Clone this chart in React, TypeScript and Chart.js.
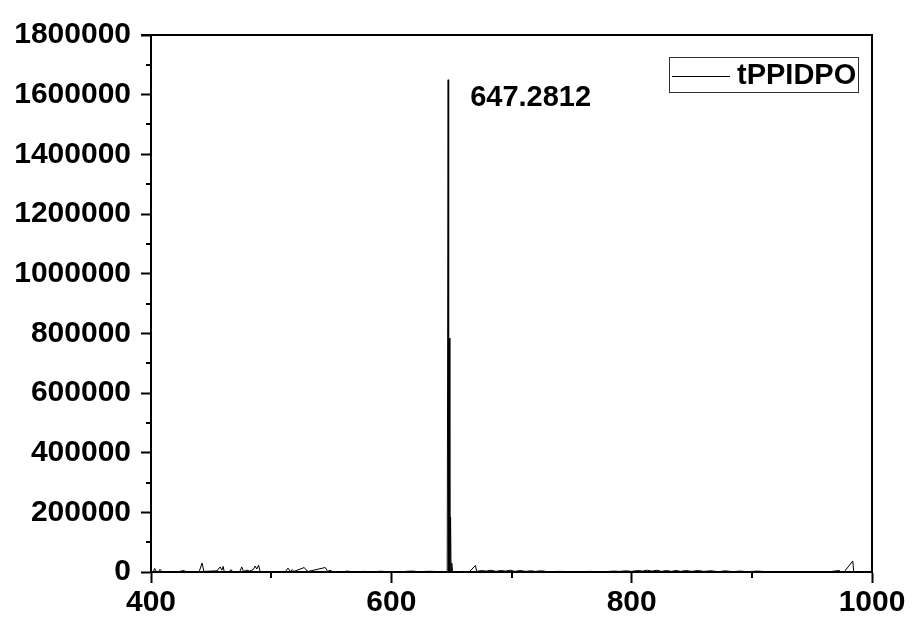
import React, { useEffect, useRef } from "react";
import { Chart, registerables } from "chart.js";

Chart.register(...registerables);

const seriesLabel = "tPPIDPO";
const peakLabel = "647.2812";
const peakMz = 647.2812;
const peakIntensity = 1650000;

const mz: number[] = [
  400, 402, 403, 404.5, 406, 407.5, 409, 415, 422, 427, 430, 440, 442.5, 444,
  455, 457.5, 459, 460, 461, 465, 466.7, 468, 474, 475.5, 477, 480, 482, 485,
  486.7, 488, 489.5, 491, 500, 512, 514, 516, 517.5, 519, 527.5, 530, 531, 545,
  547, 549, 551, 560, 563, 570, 577, 585, 591, 600, 610, 613, 618, 622, 632, 640,
  646.5, 647.28, 647.7, 648.28, 648.7, 649.29, 649.7, 650.29, 651, 655, 660, 665,
  670, 671, 675, 679, 683, 687, 691, 695, 699, 703, 707, 712, 716, 720, 725, 730,
  740, 752, 765, 778, 785, 790, 795, 800, 805, 809, 813, 817, 821, 825, 829, 833,
  837, 841, 845, 850, 855, 860, 866, 872, 878, 884, 890, 896, 905, 915, 930, 950,
  965, 972.5, 974, 977, 984, 984.8, 990, 995, 1000,
];

const intensity: number[] = [
  0, 0, 12000, 2000, 0, 9000, 2000, 1000, 0, 5000, 0, 0, 30000, 2000,
  4000, 17000, 6000, 19000, 0, 2000, 8000, 0, 2000, 17000, 2000, 6000, 3000, 8000,
  20000, 10000, 23000, 0, 0, 2000, 13000, 2000, 8000, 2000, 15000, 3000, 2000, 15000,
  2000, 6000, 1000, 1000, 3000, 0, 2000, 500, 2500, 500, 1000, 2500, 3000, 1000, 2500, 1000,
  0, 1650000, 0, 784000, 0, 184000, 0, 30000, 0, 1000, 2000, 1000,
  22000, 2000, 5000, 3000, 6000, 2000, 5000, 3000, 6000, 2000, 5000, 2000, 4000, 2000, 4000, 1000,
  2000, 1000, 2000, 1000, 3000, 2000, 4000, 2000, 5000, 3000, 6000, 3000, 6000, 2000, 5000, 2000,
  5000, 2000, 5000, 2000, 5000, 2000, 4000, 1000, 4000, 1000, 3000, 1000, 3000, 500, 1000, 500,
  1000, 5000, 1000, 1000, 37000, 0, 500, 2000, 500,
];

const xMin = 400;
const xMax = 1000;
const xStep = 200;
const xMinorStep = 100;
const yMin = 0;
const yMax = 1800000;
const yStep = 200000;
const yMinorStep = 100000;

const FONT = "'Liberation Sans', Arial, Helvetica, sans-serif";

const framePlugin = {
  id: "frameAndNotes",
  afterDraw(chart: any) {
    const { ctx, chartArea } = chart;
    const xs = chart.scales.x;
    const ys = chart.scales.y;
    ctx.save();
    ctx.strokeStyle = "#000";
    ctx.lineWidth = 2;
    // top and right frame
    ctx.beginPath();
    ctx.moveTo(chartArea.left - 10, chartArea.top);
    ctx.lineTo(chartArea.right + 1, chartArea.top);
    ctx.moveTo(chartArea.right, chartArea.top);
    ctx.lineTo(chartArea.right, chartArea.bottom + 1);
    ctx.stroke();
    // minor ticks
    ctx.beginPath();
    for (let v = yMin + yMinorStep; v < yMax; v += yStep) {
      const py = Math.round(ys.getPixelForValue(v));
      ctx.moveTo(chartArea.left - 5, py);
      ctx.lineTo(chartArea.left, py);
    }
    for (let v = xMin + xMinorStep; v < xMax; v += xStep) {
      const px = Math.round(xs.getPixelForValue(v));
      ctx.moveTo(px, chartArea.bottom);
      ctx.lineTo(px, chartArea.bottom + 6);
    }
    ctx.stroke();

    // peak annotation
    ctx.fillStyle = "#000";
    ctx.font = `bold 29px ${FONT}`;
    ctx.textBaseline = "middle";
    ctx.textAlign = "left";
    ctx.fillText(
      peakLabel,
      xs.getPixelForValue(peakMz) + 22,
      ys.getPixelForValue(peakIntensity) + 18
    );

    // legend
    const bx = 669, by = 57, bw = 189, bh = 35;
    ctx.lineWidth = 1;
    ctx.strokeStyle = "#333";
    ctx.strokeRect(bx + 0.5, by + 0.5, bw, bh);
    ctx.strokeStyle = "#000";
    ctx.beginPath();
    ctx.moveTo(bx + 3, by + 19.5);
    ctx.lineTo(bx + 61, by + 19.5);
    ctx.stroke();
    ctx.font = `bold 29px ${FONT}`;
    ctx.fillText(seriesLabel, bx + 68, by + 19);
    ctx.restore();
  },
};

export default function App() {
  const ref = useRef<HTMLCanvasElement | null>(null);
  useEffect(() => {
    if (!ref.current) return;
    const points = mz.map((m, i) => ({ x: m, y: intensity[i] }));
    const chart = new Chart(ref.current, {
      type: "line",
      data: {
        datasets: [
          {
            label: seriesLabel,
            data: points,
            borderColor: "#000",
            borderWidth: 1,
            pointRadius: 0,
            tension: 0,
            fill: false,
          },
        ],
      },
      options: {
        responsive: false,
        animation: false,
        layout: { padding: { top: 35, right: 44, left: 0, bottom: 0 } },
        plugins: {
          legend: { display: false },
          tooltip: { enabled: false },
        },
        scales: {
          x: {
            type: "linear",
            min: xMin,
            max: xMax,
            ticks: {
              stepSize: xStep,
              color: "#000",
              font: { family: FONT, size: 30, weight: "bold" },
              padding: 2,
              maxRotation: 0,
              callback: (v: any) => String(v),
            },
            grid: {
              drawOnChartArea: false,
              drawTicks: true,
              tickLength: 11,
              tickWidth: 2,
              tickColor: "#000",
            },
            border: { display: true, width: 2, color: "#000" },
            afterFit: (s: any) => {
              s.height = 50;
            },
          },
          y: {
            type: "linear",
            min: yMin,
            max: yMax,
            ticks: {
              stepSize: yStep,
              color: "#000",
              font: { family: FONT, size: 30, weight: "bold" },
              padding: 10,
              callback: (v: any) => String(v),
            },
            grid: {
              drawOnChartArea: false,
              drawTicks: true,
              tickLength: 10,
              tickWidth: 2,
              tickColor: "#000",
            },
            border: { display: true, width: 2, color: "#000" },
            afterFit: (s: any) => {
              s.width = 151;
            },
          },
        },
      },
      plugins: [framePlugin],
    });
    return () => chart.destroy();
  }, []);
  return (
    <div style={{ position: "fixed", left: 0, top: 0, width: 916, height: 622, background: "#fff" }}>
      <canvas ref={ref} width={916} height={622} style={{ display: "block" }} />
    </div>
  );
}
